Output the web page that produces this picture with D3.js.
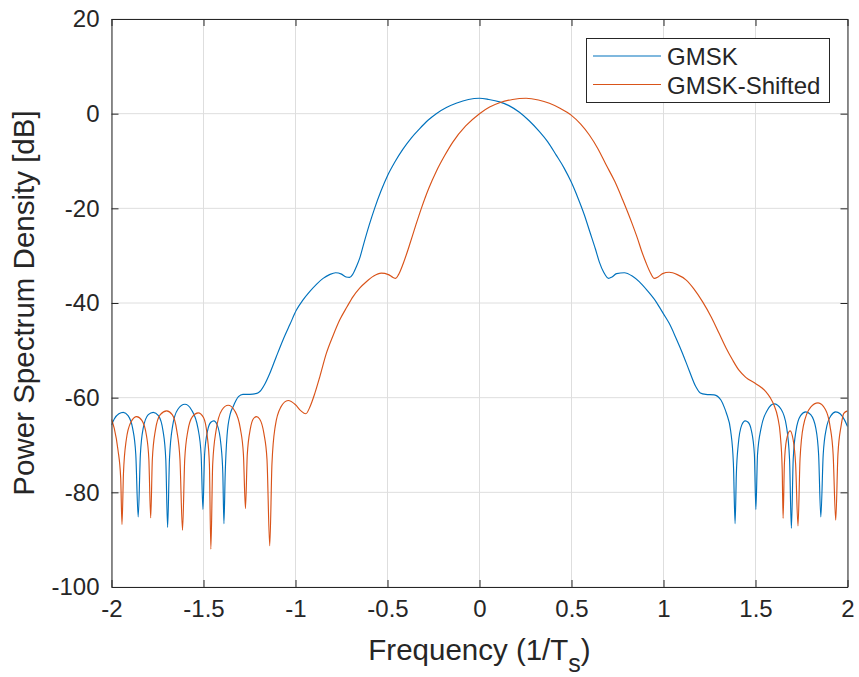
<!DOCTYPE html>
<html>
<head>
<meta charset="utf-8">
<script src="https://cdn.jsdelivr.net/npm/d3@7/dist/d3.min.js"></script>
<style>
  html, body { margin: 0; padding: 0; background: #fff; }
  svg { display: block; }
  text { font-family: "Liberation Sans", Arial, Helvetica, sans-serif; fill: #262626; }
</style>
</head>
<body>
<svg id="chart" width="859" height="677"></svg>
<script>
// ---- data ----
const seriesNames = ["GMSK", "GMSK-Shifted"];
const xTicks = [-2, -1.5, -1, -0.5, 0, 0.5, 1, 1.5, 2];
const xTickLabels = ["-2", "-1.5", "-1", "-0.5", "0", "0.5", "1", "1.5", "2"];
const yTicks = [-100, -80, -60, -40, -20, 0, 20];
const yTickLabels = ["-100", "-80", "-60", "-40", "-20", "0", "20"];

const freqGMSK = [
  -2.000, -1.985, -1.960, -1.936, -1.910, -1.885, -1.868, -1.855, -1.843, -1.828,
  -1.800, -1.773, -1.745, -1.720, -1.705, -1.695, -1.685, -1.668, -1.640, -1.601,
  -1.565, -1.530, -1.513, -1.503, -1.494, -1.478, -1.460, -1.444, -1.425, -1.405,
  -1.395, -1.389, -1.382, -1.372, -1.355, -1.339, -1.310, -1.286, -1.248, -1.210,
  -1.194, -1.165, -1.140, -1.105, -1.068, -1.030, -0.995, -0.960, -0.923, -0.885,
  -0.850, -0.815, -0.782, -0.750, -0.725, -0.706, -0.690, -0.669, -0.650, -0.630,
  -0.600, -0.570, -0.535, -0.500, -0.460, -0.416, -0.370, -0.326, -0.280,
  -0.235, -0.180, -0.127, -0.060, 0.000, 0.050, 0.109, 0.160, 0.217, 0.270,
  0.326, 0.370, 0.416, 0.460, 0.498, 0.535, 0.570, 0.600, 0.630, 0.651,
  0.675, 0.702, 0.720, 0.745, 0.787, 0.830, 0.868, 0.910, 0.959, 1.000,
  1.031, 1.070, 1.103, 1.140, 1.176, 1.200, 1.230, 1.275, 1.312, 1.330,
  1.342, 1.365, 1.380, 1.389, 1.396, 1.406, 1.425, 1.444, 1.460, 1.478,
  1.494, 1.502, 1.511, 1.530, 1.565, 1.601, 1.640, 1.668, 1.685, 1.695,
  1.705, 1.720, 1.745, 1.773, 1.800, 1.828, 1.843, 1.855, 1.868, 1.885,
  1.910, 1.936, 1.960, 1.985, 2.000
];
const psdGMSK = [
  -65.8, -64.5, -63.4, -63.1, -63.8, -66.5, -72.0, -85.2, -72.0, -66.5,
  -63.6, -63.1, -63.8, -67.0, -73.0, -87.4, -73.0, -66.0, -62.5, -61.4,
  -62.6, -66.5, -72.0, -83.6, -72.0, -67.0, -65.2, -64.9, -65.8, -70.0,
  -76.0, -86.6, -76.0, -68.0, -63.5, -61.9, -59.8, -59.3, -59.3, -59.1,
  -58.7, -57.0, -54.9, -51.4, -47.8, -44.5, -41.5, -39.4, -37.6, -36.0,
  -34.8, -34.0, -33.6, -33.9, -34.5, -34.6, -34.0, -32.3, -30.4, -27.6,
  -23.6, -20.0, -16.3, -13.1, -10.2, -7.5, -5.1, -3.2, -1.4,
  0.0, 1.3, 2.2, 3.0, 3.25, 3.0, 2.5, 1.7, 0.3, -1.5,
  -3.8, -5.9, -8.7, -11.5, -14.4, -17.8, -21.4, -25.0, -28.6, -31.3,
  -33.5, -34.8, -34.5, -33.8, -33.6, -34.3, -35.5, -37.3, -39.7, -42.3,
  -44.3, -47.6, -50.6, -54.3, -57.7, -59.0, -59.3, -59.4, -60.5, -62.0,
  -63.3, -67.0, -74.0, -86.6, -76.0, -70.0, -65.8, -64.9, -65.2, -67.0,
  -72.0, -83.6, -72.0, -66.5, -62.6, -61.3, -62.5, -66.0, -73.0, -87.6,
  -73.0, -67.0, -63.8, -63.0, -63.6, -66.5, -72.0, -85.2, -72.0, -66.5,
  -63.8, -63.0, -63.4, -64.8, -66.1
];

const freqShifted = [
  -2.000, -1.985, -1.965, -1.950, -1.943, -1.935, -1.920, -1.895, -1.863, -1.835,
  -1.810, -1.797, -1.787, -1.778, -1.762, -1.735, -1.700, -1.670, -1.645, -1.628,
  -1.614, -1.602, -1.585, -1.560, -1.529, -1.500, -1.480, -1.468, -1.460, -1.450,
  -1.432, -1.400, -1.366, -1.330, -1.300, -1.283, -1.272, -1.262, -1.245, -1.228,
  -1.212, -1.195, -1.172, -1.155, -1.140, -1.128, -1.110, -1.080, -1.040, -1.000,
  -0.970, -0.944, -0.920, -0.895, -0.868, -0.832, -0.795, -0.760, -0.720, -0.688,
  -0.650, -0.615, -0.575, -0.534, -0.495, -0.470, -0.456, -0.440, -0.416, -0.395,
  -0.380, -0.345, -0.316, -0.275, -0.235, -0.190, -0.145, -0.075, 0.000, 0.055,
  0.109, 0.180, 0.253, 0.320, 0.380, 0.440, 0.498, 0.550, 0.597, 0.645,
  0.688, 0.735, 0.778, 0.832, 0.859, 0.880, 0.905, 0.930, 0.950, 0.970,
  0.995, 1.031, 1.075, 1.122, 1.165, 1.212, 1.260, 1.302, 1.340, 1.375,
  1.410, 1.447, 1.500, 1.530, 1.556, 1.580, 1.601, 1.620, 1.635, 1.645,
  1.650, 1.657, 1.668, 1.688, 1.705, 1.718, 1.731, 1.742, 1.760, 1.800,
  1.840, 1.880, 1.905, 1.922, 1.936, 1.948, 1.965, 1.980, 2.000
];
const psdShifted = [
  -64.6, -66.5, -71.0, -77.0, -86.8, -76.0, -69.0, -65.2, -64.0, -64.8,
  -68.0, -73.0, -85.4, -73.0, -67.0, -63.6, -62.8, -63.6, -67.0, -73.0,
  -88.0, -73.0, -67.0, -64.0, -63.2, -64.2, -68.0, -74.0, -92.0, -74.0,
  -67.0, -62.6, -61.6, -62.8, -66.5, -72.0, -83.4, -72.0, -66.5, -64.4,
  -64.0, -64.5, -67.5, -73.0, -91.3, -74.0, -66.0, -62.0, -60.6, -61.5,
  -62.8, -63.4, -61.8, -59.1, -55.6, -50.6, -46.8, -43.6, -40.8, -38.7,
  -36.8, -35.5, -34.3, -33.7, -34.0, -34.6, -34.8, -34.0, -31.8, -29.5,
  -27.7, -23.4, -20.0, -15.7, -12.2, -8.9, -6.0, -2.6, 0.0, 1.4,
  2.3, 3.0, 3.25, 2.9, 2.2, 1.1, -0.3, -2.2, -4.5, -7.5,
  -10.8, -14.3, -18.2, -23.5, -26.4, -28.9, -31.5, -33.7, -34.8, -34.5,
  -33.8, -33.5, -34.0, -35.1, -37.0, -39.7, -43.0, -46.4, -49.5, -52.0,
  -54.2, -55.7, -57.0, -57.8, -58.7, -60.0, -61.6, -64.0, -68.0, -75.0,
  -85.5, -74.0, -69.0, -67.0, -69.0, -74.0, -87.1, -73.0, -66.0, -62.0,
  -61.1, -62.5, -66.0, -72.0, -85.9, -72.0, -66.0, -63.3, -62.8
];

// ---- layout ----
const W = 859, H = 677;
const margin = { left: 111.5, right: 11.5, top: 19, bottom: 90 };
const x0 = margin.left, x1 = W - margin.right;
const y0 = margin.top, y1 = H - margin.bottom;

const colors = ["#0072BD", "#D95319"];
const axisColor = "#262626";
const gridColor = "#dedede";

const svg = d3.select("#chart");

const x = d3.scaleLinear().domain([-2, 2]).range([x0, x1]);
const y = d3.scaleLinear().domain([-100, 20]).range([y1, y0]);

// grid
const grid = svg.append("g");
grid.selectAll("line.gx").data(xTicks).join("line")
  .attr("x1", d => x(d)).attr("x2", d => x(d))
  .attr("y1", y0).attr("y2", y1)
  .attr("stroke", gridColor).attr("stroke-width", 1);
grid.selectAll("line.gy").data(yTicks).join("line")
  .attr("x1", x0).attr("x2", x1)
  .attr("y1", d => y(d)).attr("y2", d => y(d))
  .attr("stroke", gridColor).attr("stroke-width", 1);

// clip
svg.append("clipPath").attr("id", "clip").append("rect")
  .attr("x", x0).attr("y", y0).attr("width", x1 - x0).attr("height", y1 - y0);

const line = d3.line().x(d => x(d[0])).y(d => y(d[1])).curve(d3.curveMonotoneX);
const seriesData = [
  d3.zip(freqGMSK, psdGMSK),
  d3.zip(freqShifted, psdShifted)
];
svg.append("g").attr("clip-path", "url(#clip)")
  .selectAll("path").data(seriesData).join("path")
  .attr("d", line)
  .attr("fill", "none")
  .attr("stroke", (d, i) => colors[i])
  .attr("stroke-width", 1.15)
  .attr("stroke-linejoin", "round");

// axes (inward ticks, mirrored, box)
const tickLen = 7;
const fontTick = 24;
const bottomAxis = d3.axisBottom(x).tickValues(xTicks).tickSizeInner(-tickLen).tickSizeOuter(0)
  .tickPadding(13).tickFormat((d, i) => xTickLabels[i]);
const leftAxis = d3.axisLeft(y).tickValues(yTicks).tickSizeInner(-tickLen).tickSizeOuter(0)
  .tickPadding(12).tickFormat((d, i) => yTickLabels[i]);
const topAxis = d3.axisTop(x).tickValues(xTicks).tickSizeInner(-tickLen).tickSizeOuter(0).tickFormat("");
const rightAxis = d3.axisRight(y).tickValues(yTicks).tickSizeInner(-tickLen).tickSizeOuter(0).tickFormat("");

function styleAxis(g) {
  g.select(".domain").attr("stroke", axisColor).attr("stroke-width", 1);
  g.selectAll(".tick line").attr("stroke", axisColor).attr("stroke-width", 1);
  g.selectAll(".tick text").attr("fill", axisColor)
    .style("font-family", '"Liberation Sans", Arial, Helvetica, sans-serif')
    .style("font-size", fontTick + "px");
}
svg.append("g").attr("transform", `translate(0,${y1})`).call(bottomAxis).call(styleAxis);
svg.append("g").attr("transform", `translate(${x0},0)`).call(leftAxis).call(styleAxis);
svg.append("g").attr("transform", `translate(0,${y0})`).call(topAxis).call(styleAxis);
svg.append("g").attr("transform", `translate(${x1},0)`).call(rightAxis).call(styleAxis);

// axis labels
const fontLabel = 29.5;
const xl = svg.append("text")
  .attr("x", (x0 + x1) / 2).attr("y", 660)
  .attr("text-anchor", "middle")
  .style("font-size", fontLabel + "px");
xl.append("tspan").text("Frequency (1/T");
xl.append("tspan").attr("dy", 12).style("font-size", "25px").text("s");
xl.append("tspan").attr("dy", -12).text(")");

svg.append("text")
  .attr("transform", `translate(34,${(y0 + y1) / 2}) rotate(-90)`)
  .attr("text-anchor", "middle")
  .style("font-size", fontLabel + "px")
  .text("Power Spectrum Density [dB]");

// legend
const lg = svg.append("g");
const lgX = 586.5, lgY = 38.5, lgW = 243, lgH = 64;
lg.append("rect").attr("x", lgX).attr("y", lgY).attr("width", lgW).attr("height", lgH)
  .attr("fill", "#fff").attr("stroke", axisColor).attr("stroke-width", 1);
seriesNames.forEach((name, i) => {
  const cy = 56 + i * 28.5;
  lg.append("line").attr("x1", 593).attr("x2", 661).attr("y1", cy).attr("y2", cy)
    .attr("stroke", colors[i]).attr("stroke-width", 1.15);
  lg.append("text").attr("x", 667).attr("y", cy + 9)
    .style("font-size", "24px").text(name);
});
</script>
</body>
</html>
